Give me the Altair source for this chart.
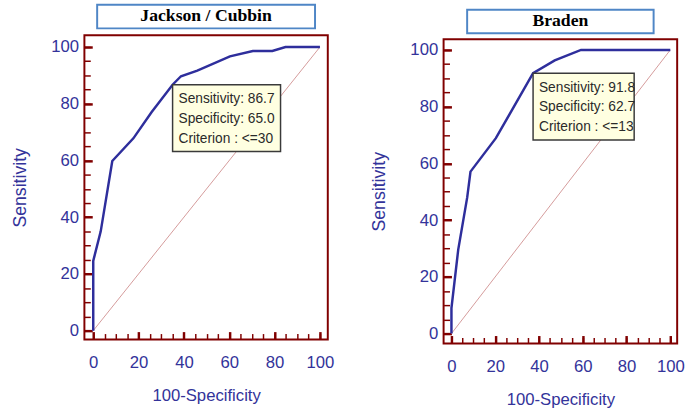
import altair as alt
import pandas as pd

# ---- data ----
jc_x = [0, 0, 3.3, 8.4, 17.7, 25.7, 35.0, 38.7, 45.9, 60.3, 70.4, 79.0, 84.8, 100]
jc_y = [0, 24.6, 35.0, 59.8, 67.8, 77.0, 86.7, 89.7, 91.7, 96.7, 98.6, 98.6, 100, 100]
br_x = [0, 0, 3.1, 7.2, 8.7, 20.3, 37.3, 47.2, 59.2, 100]
br_y = [0, 9.0, 29.6, 48.0, 57.1, 68.9, 91.8, 96.3, 100, 100]

titles = ["Jackson / Cubbin", "Braden"]
crit_sens = [86.7, 91.8]
crit_spec = [65.0, 62.7]
crit_val = ["<=30", "<=13"]
major_ticks = [0, 20, 40, 60, 80, 100]
minor_ticks = list(range(0, 101, 5))
diag_vals = [0, 100]

BLUE = "#33339a"
LINE = "#2e2e9c"
FRAME = "#800000"
DIAG = "#d49a9a"
SANS = "Liberation Sans"


def panel(i, xs, ys, W, H, xdom, ydom, boxw, boxh, title_w, title_h, vspace):
    roc = pd.DataFrame({"x": xs, "y": ys, "i": list(range(len(xs)))})
    diag = pd.DataFrame({"x": diag_vals, "y": diag_vals})
    crit = pd.DataFrame({
        "x": [round(100 - crit_spec[i], 1)],
        "y": [crit_sens[i]],
        "t": [f"Sensitivity: {crit_sens[i]:.1f}\nSpecificity: {crit_spec[i]:.1f}\nCriterion : {crit_val[i]}"],
    })
    xs_ = alt.Scale(domain=xdom, nice=False, zero=False)
    ys_ = alt.Scale(domain=ydom, nice=False, zero=False)

    lab_x = alt.Axis(orient="bottom", values=major_ticks, ticks=False, tickSize=0, domain=False,
                     grid=False, labelPadding=16, labelFont=SANS, labelFontSize=17,
                     labelColor=BLUE, labelFlush=False, titleFont=SANS, titleFontSize=17,
                     titleFontWeight="normal", titleColor=BLUE, titlePadding=17)
    lab_y = alt.Axis(orient="left", values=major_ticks, ticks=False, tickSize=0, domain=False,
                     grid=False, labelPadding=6, labelFont=SANS, labelFontSize=17,
                     labelColor=BLUE, labelFlush=False, titleFont=SANS,
                     titleFontSize=18, titleFontWeight="normal", titleColor=BLUE, titlePadding=22)

    def tick_axes(vals, size, width):
        ax = alt.Axis(orient="top", offset=-H, values=vals, labels=False, domain=False, grid=False,
                      tickSize=size, tickWidth=width, tickColor=FRAME)
        ay = alt.Axis(orient="right", offset=-W, values=vals, labels=False, domain=False, grid=False,
                      tickSize=size, tickWidth=width, tickColor=FRAME)
        return ax, ay

    mnx, mny = tick_axes(minor_ticks, 6, 1.5)
    mjx, mjy = tick_axes(major_ticks, 8, 2.5)

    l_diag = alt.Chart(diag).mark_line(color=DIAG, strokeWidth=1).encode(
        x=alt.X("x:Q", scale=xs_, axis=lab_x, title="100-Specificity"),
        y=alt.Y("y:Q", scale=ys_, axis=lab_y, title="Sensitivity"),
    )
    l_roc = alt.Chart(roc).mark_line(color=LINE, strokeWidth=2.5).encode(
        x=alt.X("x:Q", scale=xs_, axis=mnx, title=None),
        y=alt.Y("y:Q", scale=ys_, axis=mny, title=None),
        order="i:Q",
    )
    path = f"M0,0H2V{2 * boxh / boxw:.4f}H0Z"
    l_box = alt.Chart(crit).mark_point(shape=path, size=boxw * boxw, filled=True, fill="#ffffe1",
                                       stroke="#3a3a3a", strokeWidth=1.5, opacity=1).encode(
        x=alt.X("x:Q", scale=xs_, axis=mjx, title=None),
        y=alt.Y("y:Q", scale=ys_, axis=mjy, title=None),
    )
    l_txt = alt.Chart(crit).mark_text(align="left", baseline="top", dx=6, dy=8, lineBreak="\n",
                                      lineHeight=20, font=SANS, fontSize=14, color="#2a2a2a").encode(
        x=alt.X("x:Q", scale=xs_, axis=None),
        y=alt.Y("y:Q", scale=ys_, axis=None),
        text="t:N",
    )
    roc_chart = alt.layer(l_diag, l_roc, l_box, l_txt).resolve_axis(
        x="independent", y="independent").properties(width=W, height=H)

    title_chart = alt.Chart(pd.DataFrame({"t": [titles[i]]})).mark_text(
        font="Liberation Serif", fontWeight="bold", fontSize=18, color="black").encode(
        text="t:N").properties(width=title_w, height=title_h,
                               view=alt.ViewBackground(stroke="#4f86c6", strokeWidth=2))
    return title_chart, roc_chart, vspace


t1, r1, s1 = panel(0, jc_x, jc_y, 248, 310, [-3.9, 103.46], [-3.11, 104.15], 110, 68, 222, 24, 7)
t2, r2, s2 = panel(1, br_x, br_y, 238, 310, [-3.59, 103.14], [-3.46, 103.8], 103, 68, 190, 24, 6)

spacer = alt.Chart(pd.DataFrame({"a": [0]})).mark_point(opacity=0, size=1).properties(
    width=10, height=1, view=alt.ViewBackground(stroke="transparent"))

left = alt.vconcat(t1, r1, spacing=s1, center=True, bounds="flush")
right_inner = alt.vconcat(t2, r2, spacing=s2, center=True, bounds="flush")
right = alt.vconcat(spacer, right_inner, spacing=4, bounds="flush")

chart = alt.hconcat(left, right, spacing=34).properties(
    padding={"left": 10, "top": 0, "right": 0, "bottom": 0}
).configure_view(stroke=FRAME, strokeWidth=2)

chart.save("out.html", embed_options={"renderer": "svg", "actions": False})
